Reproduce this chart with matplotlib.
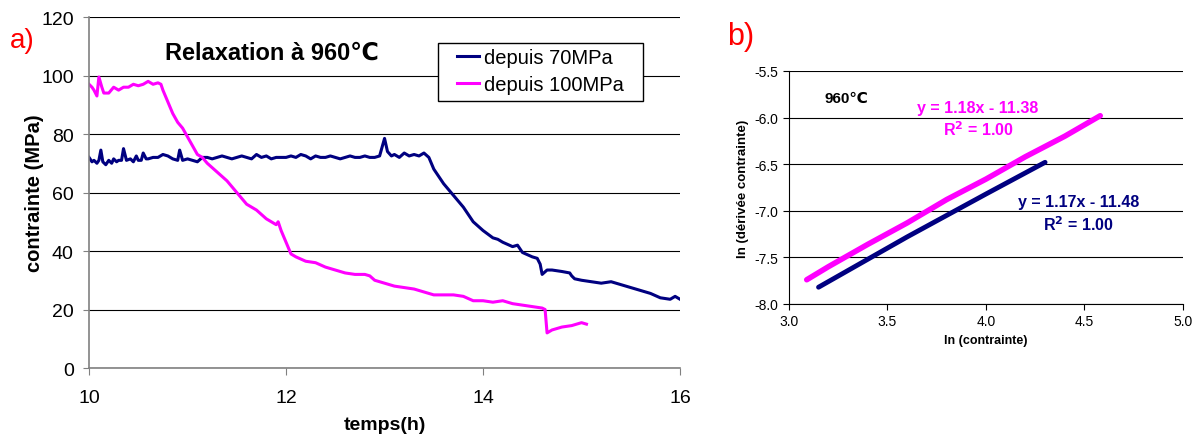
import matplotlib.pyplot as plt
from matplotlib.patches import Rectangle

plt.rcParams['font.family'] = ['Liberation Sans', 'DejaVu Sans']

# panel a) relaxation curves (time in h, stress in MPa)
t_70 = [10.0, 10.03, 10.05, 10.08, 10.1, 10.12, 10.14, 10.17, 10.2, 10.23, 10.25, 10.28, 10.3,
        10.33, 10.35, 10.38, 10.42, 10.45, 10.48, 10.5, 10.53, 10.55, 10.58, 10.6, 10.65, 10.7,
        10.75, 10.8, 10.85, 10.9, 10.92, 10.95, 11.0, 11.05, 11.1, 11.15, 11.2, 11.25, 11.3, 11.35,
        11.4, 11.45, 11.5, 11.55, 11.6, 11.65, 11.7, 11.75, 11.8, 11.85, 11.9, 11.95, 12.0, 12.05,
        12.1, 12.15, 12.2, 12.25, 12.3, 12.35, 12.4, 12.45, 12.5, 12.55, 12.6, 12.65, 12.7, 12.75,
        12.8, 12.85, 12.9, 12.95, 13.0, 13.03, 13.07, 13.1, 13.15, 13.2, 13.25, 13.3, 13.35, 13.4,
        13.45, 13.5, 13.6, 13.7, 13.8, 13.9, 14.0, 14.1, 14.15, 14.2, 14.3, 14.35, 14.4, 14.5,
        14.55, 14.58, 14.6, 14.65, 14.7, 14.8, 14.88, 14.9, 14.93, 15.0, 15.1, 15.2, 15.3, 15.4,
        15.5, 15.6, 15.7, 15.8, 15.9, 15.95, 16.0]
s_70 = [72, 70.5, 71, 70, 71, 74.5, 70.5, 69.5, 71, 70, 71.5, 70.5, 71,
        71, 75, 71, 71.5, 70.5, 72.5, 71, 71, 73.5, 71.5, 71.5, 72, 72,
        73, 72.5, 71.5, 71, 74.5, 71, 71.5, 71, 70.5, 72, 72, 71.5, 72, 72.5,
        72, 71.5, 72, 72.5, 72, 71.5, 73, 72, 72.5, 71.5, 72, 72, 72, 72.5,
        72, 73, 72.5, 71.5, 72.5, 72, 72, 72.5, 72, 71.5, 72, 72.5, 72, 72,
        72.5, 72, 72, 72.5, 78.5, 74, 72.5, 73, 72, 73.5, 72.5, 73, 72.5, 73.5,
        72, 68, 63, 59, 55, 50, 47, 44.5, 44, 43, 41.5, 42, 39.5, 38,
        37.5, 35.5, 32, 33.5, 33.5, 33, 32.5, 31.5, 30.5, 30, 29.5, 29, 29.5, 28.5,
        27.5, 26.5, 25.5, 24, 23.5, 24.5, 23.5]

t_100 = [10.0, 10.03, 10.05, 10.08, 10.1, 10.13, 10.15, 10.2, 10.25, 10.3, 10.35, 10.4, 10.45, 10.5,
         10.55, 10.6, 10.65, 10.7, 10.73, 10.75, 10.8, 10.85, 10.9, 10.95, 11.0, 11.05, 11.1, 11.15,
         11.2, 11.3, 11.4, 11.5, 11.6, 11.7, 11.8, 11.9, 11.92, 11.95, 12.0, 12.05, 12.1, 12.2, 12.3,
         12.4, 12.5, 12.6, 12.7, 12.8, 12.85, 12.9, 13.0, 13.1, 13.2, 13.3, 13.4, 13.5, 13.6, 13.7,
         13.8, 13.9, 14.0, 14.1, 14.2, 14.3, 14.4, 14.5, 14.6, 14.63, 14.65, 14.7, 14.8, 14.9, 15.0,
         15.05]
s_100 = [97, 96, 95, 93, 99.5, 96, 94, 94, 96, 95, 96, 96, 97, 96.5,
         97, 98, 97, 97.5, 97, 95, 91, 87, 84, 82, 79, 76, 73, 72,
         70, 67, 64, 60, 56, 54, 51, 49, 50, 47, 43, 39, 38, 36.5, 36,
         34.5, 33.5, 32.5, 32, 32, 31.5, 30, 29, 28, 27.5, 27, 26, 25, 25, 25,
         24.5, 23, 23, 22.5, 23, 22, 21.5, 21, 20.5, 20, 12, 13, 14, 14.5, 15.5,
         15]

# panel b) ln(derivative) vs ln(stress)
lx_70 = [3.15, 3.4, 3.6, 3.8, 4.0, 4.3]
ly_70 = [-7.82, -7.52, -7.28, -7.05, -6.82, -6.48]
lx_100 = [3.09, 3.2, 3.4, 3.6, 3.8, 4.0, 4.2, 4.4, 4.58]
ly_100 = [-7.74, -7.60, -7.36, -7.13, -6.88, -6.66, -6.42, -6.20, -5.98]

navy = '#000080'
pink = '#FF00FF'

fig = plt.figure(figsize=(12, 4.35), dpi=100)

ax = fig.add_axes([0.0742, 0.1517, 0.4925, 0.8069])
ax.plot(t_70, s_70, color=navy, lw=2.2, label='depuis 70MPa')
ax.plot(t_100, s_100, color=pink, lw=2.2, label='depuis 100MPa')
ax.set_xlim(10, 16)
ax.set_ylim(0, 120)
ax.set_xticks([10, 12, 14, 16])
ax.set_yticks(range(0, 121, 20))
ax.yaxis.grid(True, color='black', lw=0.8)
ax.set_axisbelow(True)
for s in ['top', 'right']:
    ax.spines[s].set_visible(False)
for s in ['left', 'bottom']:
    ax.spines[s].set_color('#808080')
    ax.spines[s].set_linewidth(1.2)
ax.tick_params(labelsize=14, color='#808080')
ax.tick_params(axis='y', length=4, pad=7)
ax.tick_params(axis='x', length=5, pad=10)
ax.set_xlabel('temps(h)', fontsize=14, fontweight='bold', labelpad=7)
ax.set_ylabel('contrainte (MPa)', fontsize=14.5, fontweight='bold', labelpad=-2)
ax.text(0.31, 0.9, 'Relaxation à 960℃', transform=ax.transAxes, ha='center', va='center',
        fontsize=17, fontweight='bold')
ax.add_patch(Rectangle((0.59, 0.761), 0.348, 0.165, transform=ax.transAxes,
                       facecolor='white', edgecolor='black', lw=1, zorder=4))
leg = ax.legend(loc='upper left', bbox_to_anchor=(0.623, 0.912), fontsize=14.5, frameon=False,
                handlelength=1.1, handletextpad=0.25, borderpad=0, borderaxespad=0,
                labelspacing=0.4)
leg.set_zorder(5)
fig.text(0.008, 0.906, 'a)', color='red', fontsize=20, va='center')

bx = fig.add_axes([0.6575, 0.2989, 0.3283, 0.5356])
bx.plot(lx_100, ly_100, color=pink, lw=4, solid_capstyle='round')
bx.plot(lx_70, ly_70, color=navy, lw=3.5, solid_capstyle='round')
bx.set_xlim(3.0, 5.0)
bx.set_ylim(-8.0, -5.5)
bx.set_xticks([3.0, 3.5, 4.0, 4.5, 5.0])
bx.set_yticks([-8.0, -7.5, -7.0, -6.5, -6.0, -5.5])
bx.xaxis.set_major_formatter(plt.FormatStrFormatter('%.1f'))
bx.yaxis.set_major_formatter(plt.FormatStrFormatter('%.1f'))
bx.yaxis.grid(True, color='black', lw=0.8)
bx.set_axisbelow(True)
for s in ['top', 'right']:
    bx.spines[s].set_visible(False)
bx.tick_params(labelsize=10, length=4)
bx.set_xlabel('ln (contrainte)', fontsize=9, fontweight='bold')
bx.set_ylabel('ln (dérivée contrainte)', fontsize=9.5, fontweight='bold')
bx.text(3.18, -5.79, '960℃', fontsize=11, fontweight='bold', va='center')
bx.text(3.96, -5.89, 'y = 1.18x - 11.38', color=pink, fontsize=11.5, fontweight='bold',
        ha='center', va='center')
bx.text(3.96, -6.12, 'R$^{\\mathbf{2}}$ = 1.00', color=pink, fontsize=11.5, fontweight='bold',
        ha='center', va='center')
bx.text(4.47, -6.9, 'y = 1.17x - 11.48', color=navy, fontsize=11.5, fontweight='bold',
        ha='center', va='center')
bx.text(4.47, -7.14, 'R$^{\\mathbf{2}}$ = 1.00', color=navy, fontsize=11.5, fontweight='bold',
        ha='center', va='center')
fig.text(0.606, 0.915, 'b)', color='red', fontsize=22, va='center')

fig.savefig('out.png', dpi=100)
